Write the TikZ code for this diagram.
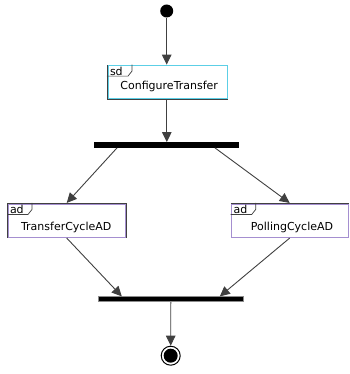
\documentclass[tikz,border=0pt]{standalone}
\usepackage{fontspec}
\setmainfont{DejaVu Sans}
\usetikzlibrary{arrows.meta,calc}

\definecolor{sdline}{HTML}{5CCFE6}
\definecolor{adline}{HTML}{A58FD0}

\tikzset{
  initnode/.style={circle,fill=black,inner sep=0pt,minimum size=13pt},
  finalnode/.style={circle,draw=black,line width=1pt,fill=white,inner sep=0pt,minimum size=19pt,
    path picture={\fill[black] (path picture bounding box.center) circle[radius=7pt];}},
  framebox/.style={rectangle,draw=black!75,line width=0.7pt,fill=white,inner sep=0pt},
  forkbar/.style={rectangle,fill=black,inner sep=0pt},
  joinbar/.style={rectangle,fill=black,draw=black!45,line width=0.6pt,inner sep=0pt},
  flow/.style={draw=black!75,line width=0.9pt,-{Triangle[width=9.5pt,length=10pt]}},
  tabline/.style={draw=black!75,line width=0.7pt},
  maintext/.style={anchor=base,inner sep=0pt,font=\fontsize{11}{13}\selectfont},
  tagtext/.style={anchor=base west,inner sep=0pt,font=\fontsize{11}{13}\selectfont},
}

% inner coloured rim of a frame and its name tab
\newcommand{\framerim}[2]{%
  \draw[#2,line width=0.6pt] ($(#1.north west)+(0.9,0.9)$) rectangle ($(#1.south east)+(-0.9,-0.9)$);
  \draw[tabline] ($(#1.north west)+(0,11.5)$) -- ++(21,0) -- ++(4,-5) -- ($(#1.north west)+(25,0)$);
}

\begin{document}
\begin{tikzpicture}[x=1pt,y=-1pt]
\useasboundingbox (0,0) rectangle (349,374);

% nodes
\node[initnode] (start) at (166.7,11) {};
\node[framebox,minimum width=120.4pt,minimum height=34pt] (cfg) at (167.5,82) {};
\node[forkbar,minimum width=145pt,minimum height=5.4pt] (fork) at (166.8,145) {};
\node[framebox,minimum width=118.7pt,minimum height=34.4pt] (tc) at (66.7,220.5) {};
\node[framebox,minimum width=117.3pt,minimum height=34.4pt] (pc) at (289.7,220.5) {};
\node[joinbar,minimum width=145pt,minimum height=5pt] (join) at (170.8,299.2) {};
\node[finalnode] (end) at (170.7,355.7) {};

\framerim{cfg}{sdline}
\framerim{tc}{adline}
\framerim{pc}{adline}

% texts
\node[tagtext] (cfgtag) at (109.8,75.8) {sd};
\node[maintext] (cfgname) at (169.2,89.5) {ConfigureTransfer};
\node[tagtext] (tctag) at (9.8,213.3) {ad};
\node[maintext] (tcname) at (66.2,230.8) {TransferCycleAD};
\node[tagtext] (pctag) at (233.5,213.3) {ad};
\node[maintext] (pcname) at (292,230.8) {PollingCycleAD};

% connectors
\draw[flow] (start) -- (start |- cfg.north);
\draw[flow] (cfg.south -| fork.north) -- (fork.north);
\draw[flow] ($(fork.south)+(-49.8,0)$) -- (tc.north);
\draw[flow] ($(fork.south)+(48.2,0)$) -- (pc.north);
\draw[flow] (tc.south) -- ($(join.north)+(-49,0)$);
\draw[flow] (pc.south) -- ($(join.north)+(49,0)$);
\draw[flow] (join.south) -- (end.north);
\end{tikzpicture}
\end{document}
